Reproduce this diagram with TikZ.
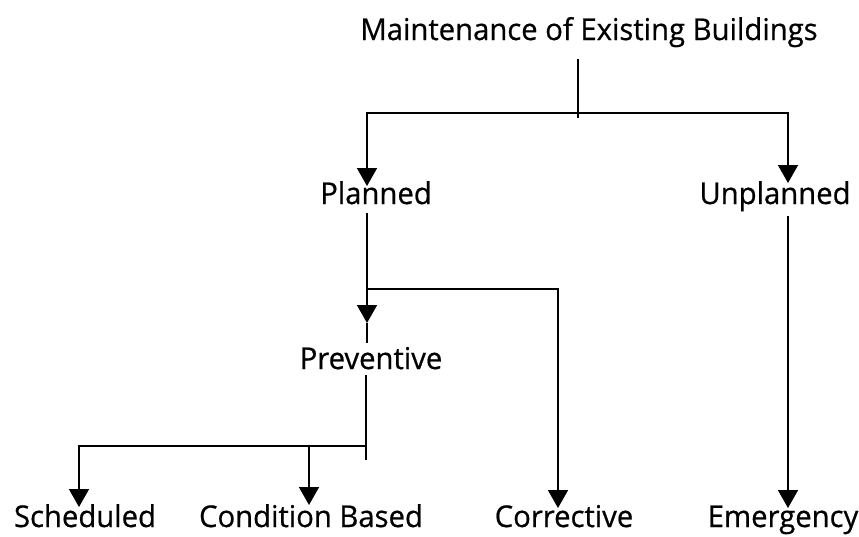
\documentclass[tikz,border=0pt]{standalone}
\usepackage{fontspec}
\setmainfont{Open Sans}[FakeStretch=0.975,FakeBold=0.6]
\usetikzlibrary{arrows.meta}
\begin{document}
\begin{tikzpicture}[x=1pt,y=-1pt,
  lbl/.style={anchor=base,inner sep=0pt,font=\fontsize{30}{34}\selectfont},
  conn/.style={line width=1.6pt,black},
  arr/.style={conn,-{Triangle[width=20pt,length=18pt]}}]
\useasboundingbox[fill=white] (0,0) rectangle (859,536);
% labels
\node[lbl] (title) at (589,40) {Maintenance of Existing Buildings};
\node[lbl] (planned) at (376,204) {Planned};
\node[lbl] (unplanned) at (775,204) {Unplanned};
\node[lbl] (preventive) at (371,369) {Preventive};
\node[lbl] (scheduled) at (85,527) {Scheduled};
\node[lbl] (condition) at (311,527) {Condition Based};
\node[lbl] (corrective) at (564,527) {Corrective};
\node[lbl] (emergency) at (783,527) {Emergency};
% junction coordinates
\coordinate (t0) at (578,59);
\coordinate (t1) at (578,118);
\coordinate (hL) at (367,113);
\coordinate (hR) at (788,113);
\coordinate (tipPl) at (367,186);
\coordinate (tipUn) at (788,183);
\coordinate (p0) at (367,213);
\coordinate (pj) at (367,289);
\coordinate (tipPr) at (367,323);
\coordinate (pEnd) at (367,343);
\coordinate (cTop) at (558,289);
\coordinate (tipCo) at (558,508);
\coordinate (u0) at (788,216);
\coordinate (tipEm) at (788,508);
\coordinate (v0) at (366,375);
\coordinate (v1) at (366,460);
\coordinate (vj) at (366,446);
\coordinate (sTop) at (79,446);
\coordinate (tipSc) at (79,507);
\coordinate (cbTop) at (309,446);
\coordinate (tipCb) at (309,505);
% connectors
\draw[conn] (t0) -- (t1);
\draw[arr] (578,113) -- (hL) -- (tipPl);
\draw[arr] (578,113) -- (hR) -- (tipUn);
\draw[arr] (p0) -- (tipPr);
\draw[conn] (tipPr) -- (pEnd);
\draw[arr] (pj) -- (cTop) -- (tipCo);
\draw[arr] (u0) -- (tipEm);
\draw[conn] (v0) -- (v1);
\draw[arr] (vj) -- (sTop) -- (tipSc);
\draw[arr] (cbTop) -- (tipCb);
\end{tikzpicture}
\end{document}
